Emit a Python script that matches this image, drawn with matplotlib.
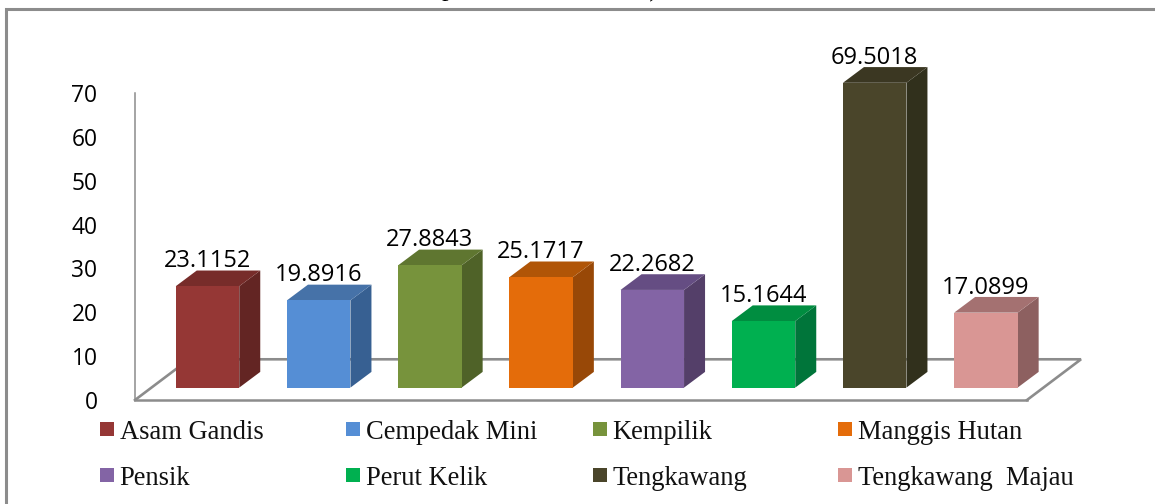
import matplotlib
matplotlib.use("Agg")
import matplotlib.pyplot as plt
from matplotlib.patches import Polygon, Rectangle

categories = ["Asam Gandis", "Cempedak Mini", "Kempilik", "Manggis Hutan",
              "Pensik", "Perut Kelik", "Tengkawang", "Tengkawang  Majau"]
values = [23.1152, 19.8916, 27.8843, 25.1717, 22.2682, 15.1644, 69.5018, 17.0899]
y_ticks = [0, 10, 20, 30, 40, 50, 60, 70]

front_colors = ["#953735", "#558ED5", "#77933C", "#E46C0A", "#8364A5", "#00B050", "#4A452A", "#D99694"]
side_colors = ["#632523", "#376092", "#4F6228", "#984807", "#543F69", "#00753A", "#31301C", "#8D6060"]
top_colors = ["#772C2A", "#4672A8", "#5F7630", "#B05507", "#654D83", "#008D40", "#3B3722", "#A47171"]

W, H = 1155, 504
fig = plt.figure(figsize=(W / 100, H / 100), dpi=100, facecolor="white")

# full-figure overlay in pixels for the frame and the legend
bg = fig.add_axes([0, 0, 1, 1], zorder=0)
bg.set_xlim(0, W)
bg.set_ylim(H, 0)
bg.axis("off")
GRAY = "#8C8C8C"
bg.plot([6, 6, W], [H, 9, 9], color=GRAY, lw=2.2, solid_joinstyle="miter")
serif = "Liberation Serif"
bg.text(448, -4, "p", family=serif, fontsize=19, ha="center", va="baseline", clip_on=True, color="black")
bg.text(652, -3, ",", family=serif, fontsize=19, ha="center", va="baseline", clip_on=True, color="black")

leg_x = [100, 346, 593, 838]
leg_y = [422, 468]
for i, (name, col) in enumerate(zip(categories, front_colors)):
    x = leg_x[i % 4]
    y = leg_y[i // 4]
    bg.add_patch(Rectangle((x, y), 14, 14, facecolor=col, edgecolor="none"))
    bg.text(x + 19.5, y + 17, name, family=serif, fontsize=19.1, va="baseline", ha="left", color="#111111")

# chart axes: x in category units, y in value units
ax_l, ax_r, ax_t, ax_b = 135, 1027, 93, 400
ax = fig.add_axes([ax_l / W, 1 - ax_b / H, (ax_r - ax_l) / W, (ax_b - ax_t) / H], zorder=1)
ax.patch.set_alpha(0)
unit_x = 111.2
unit_y = (ax_b - ax_t) / 70
x0 = -(207.5 - ax_l) / unit_x
ax.set_xlim(x0, x0 + (ax_r - ax_l) / unit_x)
ax.set_ylim(0, 70)

ax.set_xticks([])
ax.set_yticks(y_ticks)
ax.tick_params(axis="y", length=0, pad=27, labelsize=16.4, labelcolor="black")
for lab in ax.get_yticklabels():
    lab.set_family("Open Sans")
for s in ("top", "right"):
    ax.spines[s].set_visible(False)
ax.spines["left"].set_color(GRAY)
ax.spines["left"].set_linewidth(1.1)
ax.spines["bottom"].set_color(GRAY)
ax.spines["bottom"].set_linewidth(1.8)

# floor of the 3D box
depth_x = 54 / unit_x
depth_y = 40.7 / unit_y
xl, xr = ax.get_xlim()
ax.plot([xl, xl + depth_x, xr + depth_x, xr], [0, depth_y, depth_y, 0],
        color=GRAY, lw=1.9, clip_on=False, zorder=1, solid_joinstyle="miter")

# 3D bars
bw = 63.5 / unit_x
dx = 21 / unit_x
dy = 15.7 / unit_y
base = 12.4 / unit_y
for i, v in enumerate(values):
    l, r = i - bw / 2, i + bw / 2
    b, t = base, base + v
    kw = dict(clip_on=False, zorder=3, linewidth=0)
    ax.add_patch(Polygon([(r, b), (r + dx, b + dy), (r + dx, t + dy), (r, t)],
                         facecolor=side_colors[i], **kw))
    ax.add_patch(Polygon([(l, t), (r, t), (r + dx, t + dy), (l + dx, t + dy)],
                         facecolor=top_colors[i], **kw))
    ax.add_patch(Rectangle((l, b), bw, v, facecolor=front_colors[i], **kw))
    ax.annotate(f"{v:.4f}", xy=(i, t), xytext=(0, 25 * 0.72), textcoords="offset points",
                ha="center", va="center", family="Open Sans", fontsize=17,
                color="black", annotation_clip=False, zorder=4)

fig.savefig("out.png", dpi=100, facecolor="white")
